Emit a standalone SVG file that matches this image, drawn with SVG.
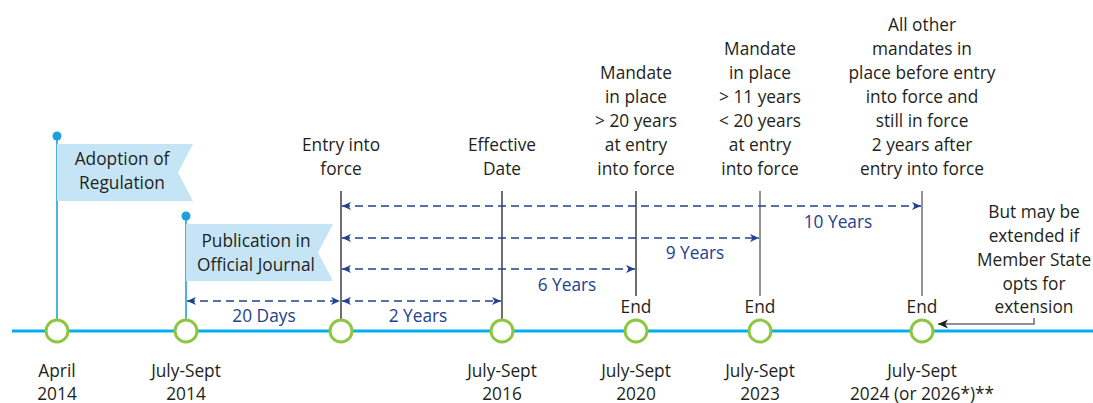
<svg xmlns="http://www.w3.org/2000/svg" width="1093" height="403" viewBox="0 0 1093 403">
<style>
text{font-family:"Open Sans","Noto Sans","Liberation Sans",sans-serif;font-size:17.3px;fill:#231f20;text-anchor:middle}
.blue{fill:#22418e}
.flag{fill:#c5e5f6}
.pole{stroke:#1da1dc;stroke-width:1.6;fill:none}
.dot{fill:#1da1dc}
.ms{fill:#fff;stroke:#8dc63f;stroke-width:3}
.vl{stroke:#231f20;stroke-width:1.3}
.vg{stroke:#6d6e71;stroke-width:1.5}
.dash{stroke:#22418e;stroke-width:1.3;stroke-dasharray:8 5;fill:none;marker-start:url(#ah);marker-end:url(#ah)}
</style>
<defs>
<marker id="ah" viewBox="0 0 10 10" refX="10" refY="5" markerWidth="10" markerHeight="9" markerUnits="userSpaceOnUse" orient="auto-start-reverse">
<path d="M0,0.5 L10,5 L0,9.5 L2.8,5 z" fill="#22418e"/>
</marker>
<marker id="ahg" viewBox="0 0 10 10" refX="10" refY="5" markerWidth="11" markerHeight="10" markerUnits="userSpaceOnUse" orient="auto">
<path d="M0,0.5 L10,5 L0,9.5 L2.8,5 z" fill="#231f20"/>
</marker>
</defs>

<g id="timeline">
<line x1="12" y1="331" x2="1093" y2="331" stroke="#00aeef" stroke-width="3"/>
</g>

<g id="connectors">
<line class="vl" x1="341" y1="191" x2="341" y2="331"/>
<line class="vl" x1="502" y1="191" x2="502" y2="331"/>
<line class="vl" x1="636" y1="191" x2="636" y2="296"/>
<line class="vg" x1="760" y1="191" x2="760" y2="296"/>
<line class="vg" x1="922" y1="191" x2="922" y2="296"/>
<line class="dash" x1="342" y1="206" x2="921" y2="206"/>
<line class="dash" x1="342" y1="238" x2="759" y2="238"/>
<line class="dash" x1="342" y1="269" x2="635" y2="269"/>
<line class="dash" x1="342" y1="301" x2="501" y2="301"/>
<line class="dash" x1="187" y1="301" x2="340" y2="301"/>
<path d="M1034,318 V324 H938" fill="none" stroke="#6d6e71" stroke-width="1.5" marker-end="url(#ahg)"/>
</g>

<g id="adoption">
<line class="pole" x1="57" y1="136" x2="57" y2="320"/>
<circle class="dot" cx="57" cy="136" r="4.5"/>
<polygon class="flag" points="57,144 193,144 178,172.5 193,201 57,201"/>
<text x="122" y="165">Adoption of</text>
<text x="122" y="189">Regulation</text>
<circle class="ms" cx="57" cy="331" r="11"/>
<text x="57" y="377">April</text>
<text x="57" y="400">2014</text>
</g>

<g id="publication">
<line class="pole" x1="186" y1="216" x2="186" y2="320"/>
<circle class="dot" cx="186" cy="216" r="4.5"/>
<polygon class="flag" points="186,224 333,224 318,252.5 333,281 186,281"/>
<text x="256" y="247">Publication in</text>
<text x="256" y="271">Official Journal</text>
<circle class="ms" cx="186" cy="331" r="11"/>
<text x="186" y="377">July-Sept</text>
<text x="186" y="400">2014</text>
<text class="blue" x="264" y="322">20 Days</text>
</g>

<g id="entry">
<text x="341" y="151">Entry into</text>
<text x="341" y="175">force</text>
<circle class="ms" cx="341" cy="331" r="11"/>
<text class="blue" x="418" y="322">2 Years</text>
</g>

<g id="effective">
<text x="502" y="151">Effective</text>
<text x="502" y="175">Date</text>
<circle class="ms" cx="502" cy="331" r="11"/>
<text x="502" y="377">July-Sept</text>
<text x="502" y="400">2016</text>
<text class="blue" x="567" y="291">6 Years</text>
</g>

<g id="end2020">
<text x="636" y="79">Mandate</text>
<text x="636" y="103">in place</text>
<text x="636" y="127">&gt; 20 years</text>
<text x="636" y="151">at entry</text>
<text x="636" y="175">into force</text>
<text x="636" y="313">End</text>
<circle class="ms" cx="636" cy="331" r="11"/>
<text x="636" y="377">July-Sept</text>
<text x="636" y="400">2020</text>
<text class="blue" x="695" y="259">9 Years</text>
</g>

<g id="end2023">
<text x="760" y="55">Mandate</text>
<text x="760" y="79">in place</text>
<text x="760" y="103">&gt; 11 years</text>
<text x="760" y="127">&lt; 20 years</text>
<text x="760" y="151">at entry</text>
<text x="760" y="175">into force</text>
<text x="760" y="313">End</text>
<circle class="ms" cx="760" cy="331" r="11"/>
<text x="760" y="377">July-Sept</text>
<text x="760" y="400">2023</text>
</g>

<g id="end2024">
<text x="922" y="31">All other</text>
<text x="922" y="55">mandates in</text>
<text x="922" y="79">place before entry</text>
<text x="922" y="103">into force and</text>
<text x="922" y="127">still in force</text>
<text x="922" y="151">2 years after</text>
<text x="922" y="175">entry into force</text>
<text x="922" y="313">End</text>
<circle class="ms" cx="922" cy="331" r="11"/>
<text x="922" y="377">July-Sept</text>
<text x="922" y="400">2024 (or 2026*)**</text>
<text class="blue" x="838" y="228">10 Years</text>
</g>

<g id="extension">
<text x="1034" y="218">But may be</text>
<text x="1034" y="242">extended if</text>
<text x="1034" y="266">Member State</text>
<text x="1034" y="290">opts for</text>
<text x="1034" y="313">extension</text>
</g>
</svg>
